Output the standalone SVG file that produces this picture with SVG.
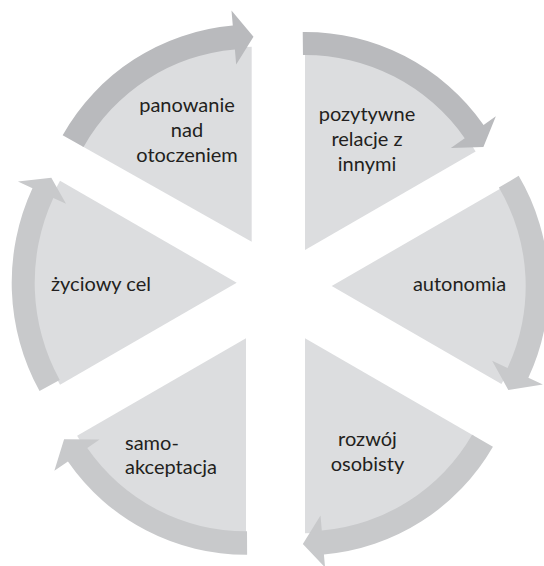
<svg xmlns="http://www.w3.org/2000/svg" width="544" height="566" viewBox="0 0 544 566">
<style>
.wedge{fill:#dcdddf;stroke:none}
.band{fill:#c8c9cb;stroke:none}
.band.dark{fill:#b9babd}
text{font-family:Lato,"Open Sans","Liberation Sans",sans-serif;font-size:20px;fill:#231f20}
.c{text-anchor:middle}
.s{text-anchor:start}
</style>
<rect width="544" height="566" fill="#ffffff"/>
<g id="node-panowanie">
<path class="wedge" d="M251.7,241.7 L81.82,145.97 A195 195 0 0 1 251.7,46.7 Z"/>
<text class="c" x="187" y="112">panowanie</text>
<text class="c" x="187" y="137">nad</text>
<text class="c" x="187" y="162">otoczeniem</text>
</g>
<g id="node-pozytywne">
<path class="wedge" d="M305,250 L305,53 A197 197 0 0 1 475.61,151.5 Z"/>
<text class="c" x="367" y="121">pozytywne</text>
<text class="c" x="367" y="146">relacje z</text>
<text class="c" x="367" y="170.5">innymi</text>
</g>
<g id="node-autonomia">
<path class="wedge" d="M331.7,286 L501.44,188 A196 196 0 0 1 501.44,384 Z"/>
<text class="c" x="459.5" y="291">autonomia</text>
</g>
<g id="node-rozwoj">
<path class="wedge" d="M305,338.3 L473.88,435.8 A195 195 0 0 1 305,533.3 Z"/>
<text class="c" x="367.5" y="446">rozwój</text>
<text class="c" x="367.5" y="470.5">osobisty</text>
</g>
<g id="node-samoakceptacja">
<path class="wedge" d="M246,338.3 L246,533.3 A195 195 0 0 1 77.12,435.8 Z"/>
<text class="s" x="125" y="449.5">samo-</text>
<text class="s" x="125" y="474">akceptacja</text>
</g>
<g id="node-zyciowy">
<path class="wedge" d="M236.7,282.7 L60.03,384.7 A204 204 0 0 1 60.03,180.7 Z"/>
<text class="c" x="101" y="291">życiowy cel</text>
</g>
<g id="connectors">
<path class="band dark" d="M62.65,135.17 A217 217 0 0 1 232.79,25.53 L231.48,10.58 L253.49,36.71 L236.19,64.38 L234.88,49.44 A193 193 0 0 0 83.56,146.96 Z"/>
<path class="band dark" d="M302.72,32.01 A218 218 0 0 1 483.57,124.96 L495.86,116.36 L483.4,147 L450.81,147.9 L464.73,138.15 A195 195 0 0 0 302.96,55.01 Z"/>
<path class="band" d="M518.67,175.86 A217 217 0 0 1 528.37,377.71 L542.87,384.47 L508.33,390.05 L492.12,360.8 L507.52,367.99 A194 194 0 0 0 498.86,187.54 Z"/>
<path class="band" d="M492.93,446.8 A217 217 0 0 1 323.91,554.47 L325.05,567.42 L302.85,543.99 L320.51,515.62 L321.82,530.56 A193 193 0 0 0 472.14,434.8 Z"/>
<path class="band" d="M247.13,554.8 A216.5 216.5 0 0 1 67.93,461.45 L54.36,470.83 L64.08,439.14 L99.6,439.55 L87.26,448.08 A193 193 0 0 0 247.01,531.3 Z"/>
<path class="band" d="M39.53,391.09 A225 225 0 0 1 32.45,188.32 L17.93,181.61 L51.31,177.81 L66.04,203.84 L53.33,197.97 A202 202 0 0 0 59.69,380.01 Z"/>
</g>
</svg>
